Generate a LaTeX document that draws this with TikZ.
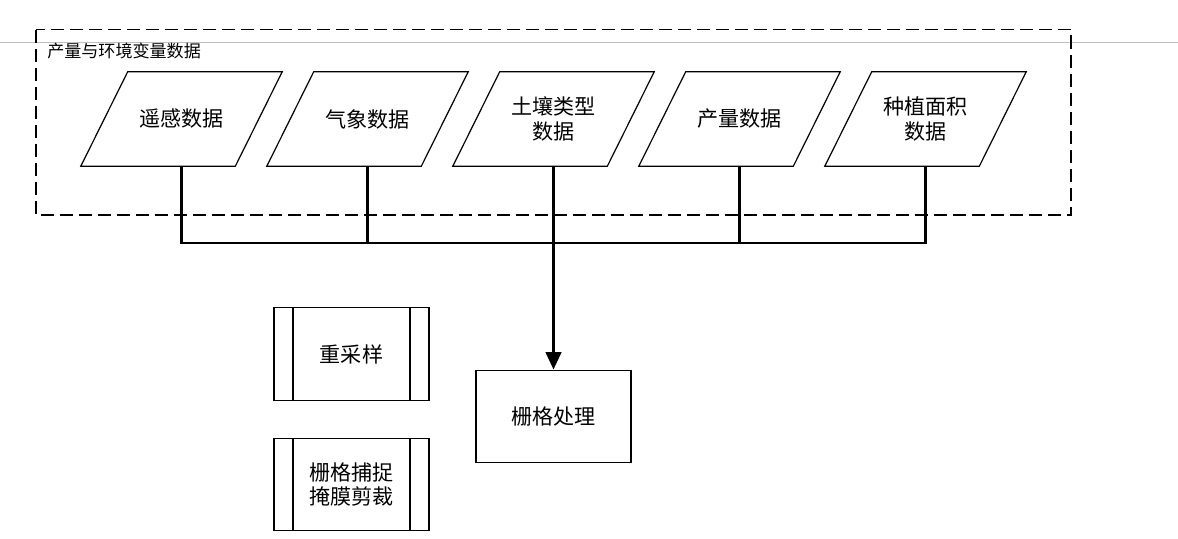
\documentclass[tikz,border=0pt]{standalone}
\usepackage{fontspec}
\newfontfamily\cjk{Noto Sans CJK SC}
\usepackage{tikz}
\usetikzlibrary{arrows.meta}

\tikzset{
  datain/.style={rectangle,minimum width=115.5pt,minimum height=70.5pt,inner sep=0pt,
    align=center,font=\cjk\fontsize{15.8}{18.5}\selectfont,
    append after command={\pgfextra{\draw[line width=0.9pt,line join=miter]
      ([xshift=-17.6pt]\tikzlastnode.south west) -- ([xshift=17.6pt]\tikzlastnode.north west)
      -- ([xshift=17.6pt]\tikzlastnode.north east) -- ([xshift=-17.6pt]\tikzlastnode.south east) -- cycle;}}},
  procbox/.style={draw,line width=0.9pt,rectangle,minimum width=116.25pt,minimum height=69.5pt,
    align=center,font=\cjk\fontsize{15.8}{18.5}\selectfont},
  subproc/.style={procbox,path picture={
    \draw[line width=0.9pt] ([xshift=14.25pt]path picture bounding box.north west) -- ([xshift=14.25pt]path picture bounding box.south west);
    \draw[line width=0.9pt] ([xshift=-14.25pt]path picture bounding box.north east) -- ([xshift=-14.25pt]path picture bounding box.south east);}},
  bus/.style={line width=2.2pt,line join=miter}
}

\begin{document}
\begin{tikzpicture}[x=0.75pt,y=-0.75pt]
\useasboundingbox (0,0) rectangle (1178,539);
\draw[black!25,line width=0.6pt] (0,42) -- (1178,42);
\draw[line width=0.9pt,dash pattern=on 9.75pt off 4.5pt] (36,29.5) rectangle (1071,215);
\node[anchor=north west,inner sep=0pt,font=\cjk\fontsize{12.8}{14}\selectfont] (grp) at (47,43) {产量与环境变量数据};
\node[datain] (rs) at (181.5,119) {遥感数据};
\node[datain] (met) at (367.5,119) {气象数据};
\node[datain] (soil) at (553.5,119) {土壤类型\\数据};
\node[datain] (yld) at (739.5,119) {产量数据};
\node[datain] (area) at (925.5,119) {种植面积\\数据};
\node[procbox] (grid) at (553.5,416.5) {栅格处理};
\node[subproc] (resamp) at (351.5,354) {重采样};
\node[subproc] (snap) at (351.5,484.5) {栅格捕捉\\掩膜剪裁};
\coordinate (bushub) at (553.5,243);
\draw[bus] (rs.south) |- (area.south |- bushub) -- (area.south);
\draw[bus] (met.south) -- (met.south |- bushub);
\draw[bus] (yld.south) -- (yld.south |- bushub);
\draw[bus] (soil.south) -- (bushub);
\draw[bus,-{Triangle[length=13pt,width=11.5pt]}] (bushub) -- (grid.north);
\end{tikzpicture}
\end{document}
